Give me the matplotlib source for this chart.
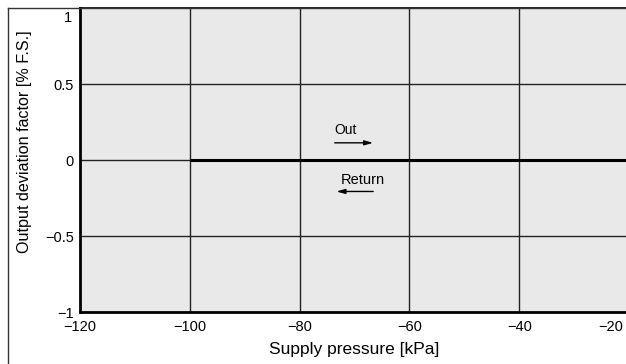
import matplotlib
matplotlib.use("Agg")
import matplotlib.pyplot as plt
from matplotlib.lines import Line2D
from matplotlib.transforms import ScaledTranslation

plt.rcParams['font.family'] = ['Liberation Sans', 'DejaVu Sans']

# Data
x_ticks = [-120, -100, -80, -60, -40, -20]
y_ticks = [-1, -0.5, 0, 0.5, 1]
y_tick_labels = ["\u22121", "\u22120.5", "0", "0.5", "1"]
x_tick_labels = ["\u2212120", "\u2212100", "\u221280", "\u221260", "\u221240", "\u221220"]
pressure = [-100, -20]
deviation = [0.0, 0.0]

fig = plt.figure(figsize=(6.26, 3.64), dpi=100)
ax = fig.add_axes([80 / 626, 1 - 312 / 364, 549 / 626, 304 / 364])
ax.set_facecolor("#e8e9e8")
ax.set_xlim(-120, -20)
ax.set_ylim(-1, 1)

# grid
for xv in x_ticks[1:-1]:
    ax.axvline(xv, color="#222222", lw=1.0, zorder=1)
for yv in [-0.5, 0, 0.5]:
    ax.axhline(yv, color="#222222", lw=1.0, zorder=1)

# deviation curve
ax.plot(pressure, deviation, color="black", lw=2.2, solid_capstyle="butt", zorder=3)

# direction arrows
ax.annotate("", xy=(-66.6, 0.113), xytext=(-73.6, 0.113),
            arrowprops=dict(arrowstyle="-|>,head_length=0.5,head_width=0.14",
                            color="black", lw=1.0, shrinkA=0, shrinkB=0))
ax.text(-71.6, 0.20, "Out", ha="center", va="center", fontsize=10)
ax.annotate("", xy=(-73.3, -0.207), xytext=(-66.6, -0.207),
            arrowprops=dict(arrowstyle="-|>,head_length=0.5,head_width=0.14",
                            color="black", lw=1.0, shrinkA=0, shrinkB=0))
ax.text(-68.4, -0.13, "Return", ha="center", va="center", fontsize=10.5)

ax.set_xticks(x_ticks)
ax.set_xticklabels(x_tick_labels)
ax.set_yticks(y_ticks)
ax.set_yticklabels(y_tick_labels)
ax.tick_params(axis="both", length=0, labelsize=10.5)
ax.tick_params(axis="y", pad=4.5)
ax.tick_params(axis="x", pad=6)

# keep the end labels inside the frame
xl = ax.get_xticklabels()
xl[-1].set_transform(xl[-1].get_transform() + ScaledTranslation(-0.18, 0, fig.dpi_scale_trans))
yl = ax.get_yticklabels()
yl[-1].set_transform(yl[-1].get_transform() + ScaledTranslation(-0.02, -0.09, fig.dpi_scale_trans))

for side in ["left", "bottom"]:
    ax.spines[side].set_linewidth(2.0)
    ax.spines[side].set_color("black")
ax.spines["top"].set_linewidth(1.2)
ax.spines["right"].set_visible(False)

ax.set_xlabel("Supply pressure [kPa]", fontsize=12.5)
ax.xaxis.set_label_coords(0.5, -0.10)
ax.set_ylabel("Output deviation factor [% F.S.]", fontsize=11.6)
ax.yaxis.set_label_coords(-0.088, 0.559)

# outer frame
fig.add_artist(Line2D([8 / 626, 8 / 626], [0, 1 - 7.5 / 364], transform=fig.transFigure,
                      color="#333333", lw=1.0))
fig.add_artist(Line2D([8 / 626, 1], [1 - 7.5 / 364, 1 - 7.5 / 364], transform=fig.transFigure,
                      color="#333333", lw=1.0))

fig.savefig("out.png", dpi=100)
